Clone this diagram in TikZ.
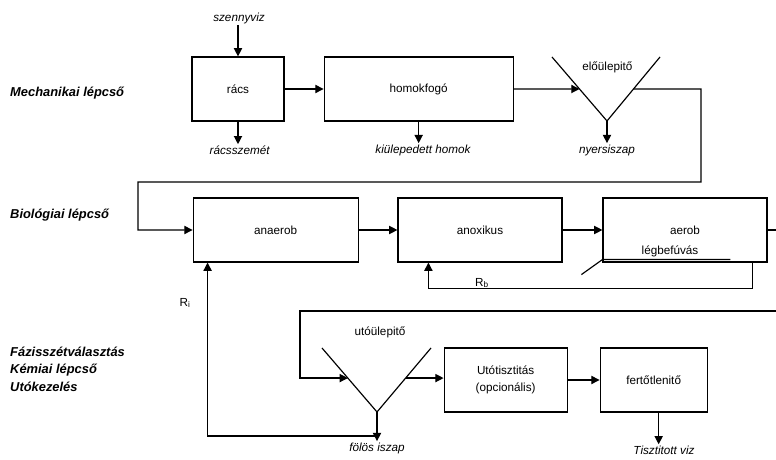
\documentclass[tikz,border=0pt]{standalone}
\usepackage{fontspec}
\setmainfont{Liberation Sans}
\usetikzlibrary{arrows.meta,calc}

\begin{document}
\begin{tikzpicture}[
    >={Triangle[length=7pt,width=7pt]},
    font=\fontsize{10}{15}\selectfont,
    doboz/.style={
        draw,
        line width=1pt,
        minimum height=1.92cm,
        inner sep=0pt,
        align=center
    },
    nyil/.style={
        ->,
        line width=1pt
    },
    vonal/.style={
        line width=1pt
    },
    kimenet/.style={
        font=\fontsize{10}{12}\selectfont\itshape,
        inner sep=1pt
    },
    szakasz/.style={
        anchor=west,
        align=left,
        inner sep=0pt,
        font=\fontsize{11}{15}\selectfont\bfseries\itshape
    }
]
\useasboundingbox (0,0) rectangle (23.28,13.8);

% mechanikai lepcso
\node[doboz, minimum width=2.76cm] (racs) at (7.14,11.13) {rács};
\node[doboz, minimum width=5.67cm] (homok) at (12.56,11.13) {homokfogó};

\coordinate (v1l) at (16.56,12.09);
\coordinate (v1r) at (19.80,12.09);
\coordinate (v1b) at (18.21,10.17);
\draw[vonal] (v1l) -- (v1b) -- (v1r);
\node (elo) at (18.22,11.79) {előülepitő};

\node[kimenet] (szennyviz) at (7.17,13.26) {szennyviz};
\node[kimenet] (racsszemet) at (7.19,9.30) {rácsszemét};
\node[kimenet] (kiul) at (12.69,9.30) {kiülepedett homok};
\node[kimenet] (nyers) at (18.21,9.30) {nyersiszap};

\draw[nyil] (szennyviz.south -| racs.north) -- (racs.north);
\draw[nyil] (racs.south) -- (racs.south |- racsszemet.north);
\draw[nyil] (racs) -- (homok);
\draw[nyil] (homok.south) -- (homok.south |- kiul.north);
\draw[nyil] (homok.east) -- ($(v1l)!0.5!(v1b)$);
\draw[nyil] (v1b) -- (v1b |- nyers.north);

% biologiai lepcso
\node[doboz, minimum width=4.95cm] (anaerob) at (8.27,6.9) {anaerob};
\node[doboz, minimum width=4.92cm] (anoxikus) at (14.40,6.9) {anoxikus};
\node[doboz, minimum width=4.92cm] (aerob) at (20.55,6.9) {aerob};
\node (legbe) at (20.10,6.27) {légbefúvás};

\draw[nyil] ($(v1r)!0.5!(v1b)$) -- (21.03,11.13) |- (4.14,8.34) |- (anaerob.west);
\draw[nyil] (anaerob) -- (anoxikus);
\draw[nyil] (anoxikus) -- (aerob);
\draw[vonal] ([shift={(-0.63,-0.36)}]aerob.south west)
    -- ([yshift=0.09cm]aerob.south west) -- ++(3.84,0);
\draw[nyil] ([xshift=-0.45cm]aerob.south east) -- ++(0,-0.78)
    -| ([xshift=0.93cm]anoxikus.south west);
\node (rb) at (14.46,5.31) {R\textsubscript{b}};

% fazisszetvalasztas, utokezeles
\coordinate (v2l) at (9.66,3.36);
\coordinate (v2r) at (12.93,3.36);
\coordinate (v2b) at (11.31,1.44);
\draw[vonal] (v2l) -- (v2b) -- (v2r);
\node (uto) at (11.40,3.84) {utóülepitő};

\node[doboz, minimum width=3.69cm] (utotiszt) at (15.17,2.4) {Utótisztitás\\(opcionális)};
\node[doboz, minimum width=3.21cm] (fert) at (19.61,2.4) {fertőtlenitő};

\node[kimenet] (folos) at (11.31,0.36) {fölös iszap};
\node[kimenet] (tiszta) at (19.92,0.30) {Tisztitott viz};

\coordinate (v2be) at ($(v2l)!0.47!(v2b)$);
\coordinate (v2ki) at ($(v2r)!0.47!(v2b)$);

\draw[nyil] (aerob.east) -- (23.60,6.9) |- (9.00,4.47) |- (v2be);
\draw[nyil] (v2ki) -- (v2ki -| utotiszt.west);
\draw[nyil] (utotiszt) -- (fert);
\draw[nyil] ([xshift=0.15cm]fert.south) -- ([xshift=0.15cm]fert.south |- tiszta.north);
\draw[nyil] (v2b) -- (folos.north);
\draw[nyil] (v2b |- 0,0.72) -| ([xshift=0.45cm]anaerob.south west);
\node (ri) at (5.55,4.71) {R\textsubscript{i}};

% szakaszok
\node[szakasz] (mech) at (0.3,11.01) {Mechanikai lépcső};
\node[szakasz] (bio) at (0.3,7.35) {Biológiai lépcső};
\node[szakasz] (fazis) at (0.3,2.73) {Fázisszétválasztás\\Kémiai lépcső\\Utókezelés};

\end{tikzpicture}
\end{document}
